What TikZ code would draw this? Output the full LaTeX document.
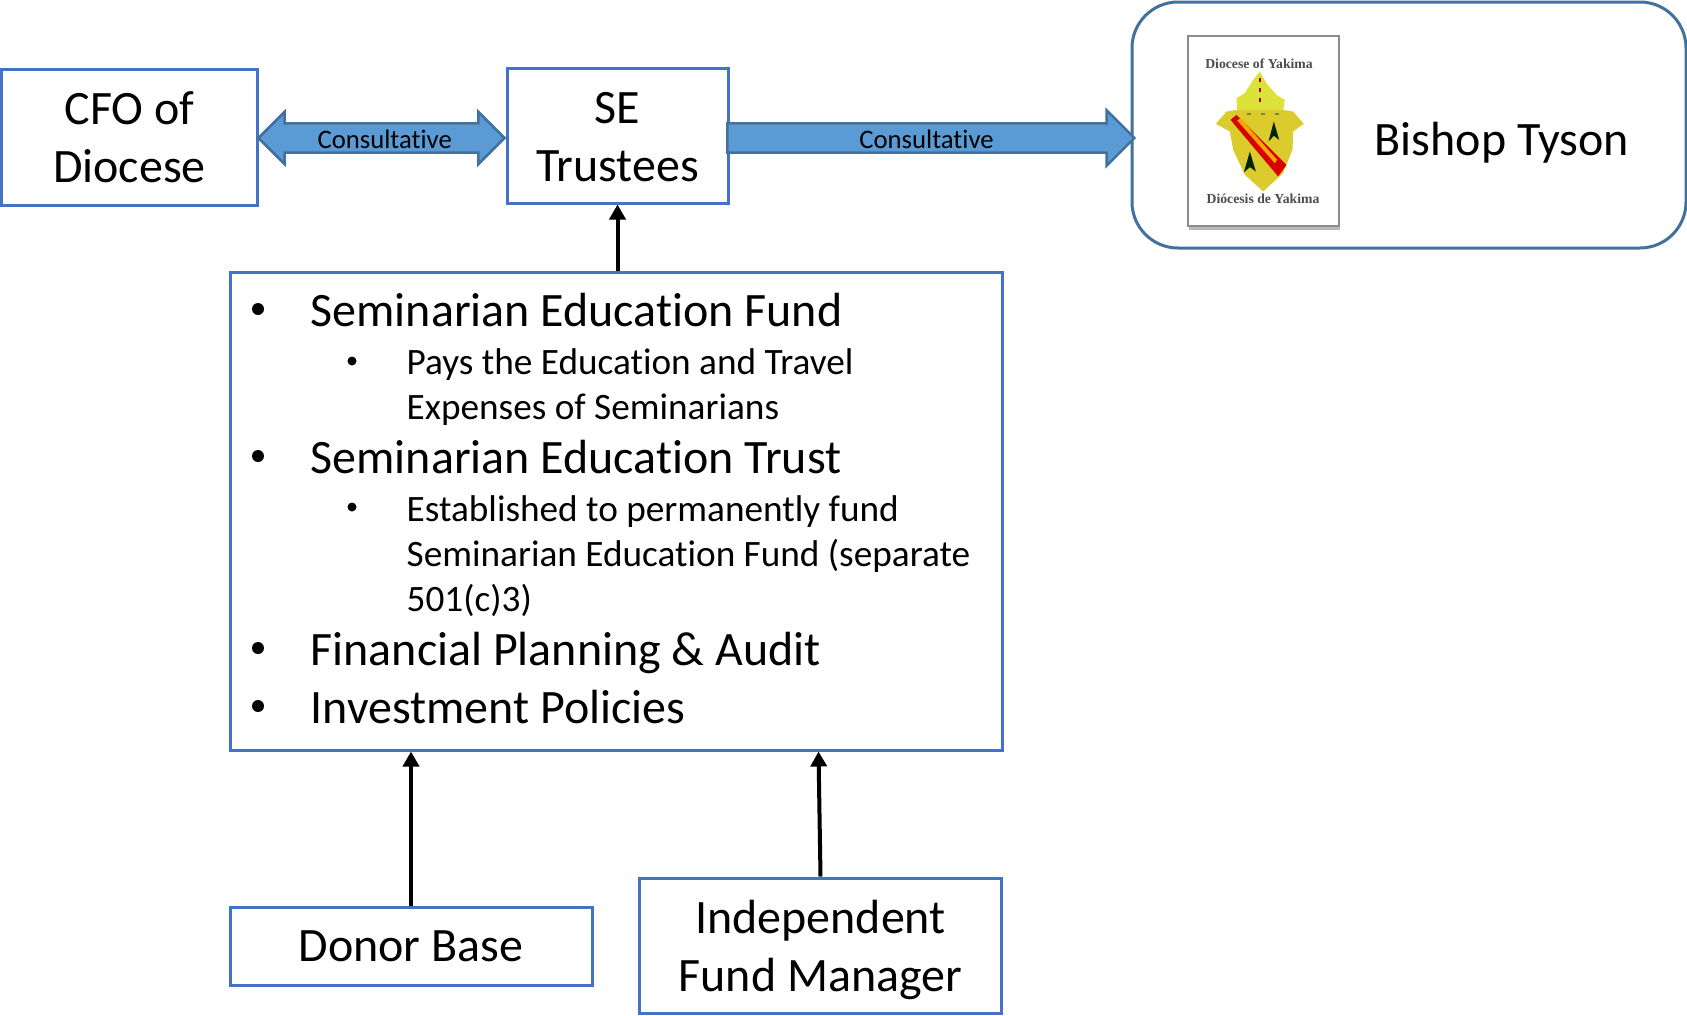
\documentclass[tikz,border=0pt]{standalone}
\usepackage{fontspec}
\setmainfont[Ligatures=NoCommon]{Carlito}
\newfontfamily\crestfont{Liberation Serif}
\usetikzlibrary{calc,positioning,arrows.meta,shapes.arrows,shadows}
\definecolor{boxblue}{HTML}{4472C4}
\definecolor{arrowblue}{HTML}{5B9BD5}
\definecolor{edgeblue}{HTML}{41719C}
\definecolor{crestyellow}{HTML}{DCCB2C}
\definecolor{mitreyellow}{HTML}{DDE23A}
\begin{document}
\begin{tikzpicture}[x=0.1mm,y=-0.1mm,
    box/.style={draw=boxblue,line width=0.3mm,fill=white,align=center,inner sep=0pt,font=\fontsize{13.65}{16.5}\selectfont},
    blockarrow/.style={draw=edgeblue,line width=0.25mm,fill=arrowblue,inner xsep=0pt,inner ysep=0pt,font=\fontsize{7.6}{8}\selectfont,text height=2.41mm,text depth=0.25mm},
    big/.style={anchor=base west,inner sep=0pt,font=\fontsize{13.65}{16.5}\selectfont},
    small/.style={anchor=base west,inner sep=0pt,font=\fontsize{10.6}{12.5}\selectfont},
    ele/.style={fill=black,circle,inner sep=0pt,minimum width=#1},
    feed/.style={-{Triangle[length=1.5mm,width=1.6mm]},line width=0.4mm},
    crest/.style={inner sep=0pt,text=black!70,font=\crestfont\bfseries\fontsize{3.9}{4}\selectfont}]
    \useasboundingbox (0,0) rectangle (1687,1015);
    \node[box,minimum width=25.6mm,minimum height=13.6mm] (cfo) at (129.5,137) {CFO of\\Diocese};
    \node[box,minimum width=22.1mm,minimum height=13.5mm] (se) at (617.5,135.5) {\rule{0pt}{9.8pt}SE\\Trustees};
    \node[box,rounded corners=4.6mm,draw=edgeblue,minimum width=55.4mm,minimum height=24.6mm] (bishop) at (1409,125) {};
    \node[big] (tyson) at (1374,155) {Bishop Tyson};
    \node[box,minimum width=77.2mm,minimum height=47.8mm] (funds) at (616.5,511) {};
    \node[box,minimum width=36.2mm,minimum height=7.8mm] (donor) at (411,946) {Donor Base};
    \node[box,minimum width=36.2mm,minimum height=13.5mm] (manager) at (820.5,945.5) {\rule{0pt}{12.2pt}Independent\\Fund Manager};

    \node[ele=1.2mm] (b1) at (258,309) {};
    \node[big] (t1) at (310,326) {Seminarian Education Fund};
    \node[ele=0.9mm] (b2) at (352,361) {};
    \node[small] (t2) at (406,374) {Pays the Education and Travel};
    \node[small] (t3) at (406,419) {Expenses of Seminarians};
    \node[ele=1.2mm] (b3) at (258,456) {};
    \node[big] (t4) at (310,473) {Seminarian Education Trust};
    \node[ele=0.9mm] (b4) at (352,507) {};
    \node[small] (t5) at (406,521) {Established to permanently fund};
    \node[small] (t6) at (406,566) {Seminarian Education Fund (separate};
    \node[small] (t7) at (406,611) {501(c)3)};
    \node[ele=1.2mm] (b5) at (258,648) {};
    \node[big] (t8) at (310,665) {Financial Planning \& Audit};
    \node[ele=1.2mm] (b6) at (258,706) {};
    \node[big] (t9) at (310,723) {Investment Policies};

    \node[blockarrow,double arrow,double arrow head extend=1.15mm,double arrow head indent=0pt,minimum height=24.6mm] (cfose) at (381.5,138) {\hspace*{0.64mm}Consultative};
    \node[blockarrow,single arrow,single arrow head extend=1.3mm,single arrow head indent=0pt,minimum height=40.7mm] (sebishop) at (923.5,138) {\hspace*{0.6mm}Consultative};

    \draw[feed] (funds.north -| se.south) -- (se.south);
    \draw[feed] (donor.north) -- (donor.north |- funds.south);
    \draw[feed] (manager.north) -- ($(manager.north |- funds.south)+(-2,0)$);

    \node[draw=black!45,line width=0.2mm,fill=white,minimum width=15.1mm,minimum height=19mm,inner sep=0pt,drop shadow={shadow xshift=0.1mm,shadow yshift=-0.4mm,fill=black!55}] (emblem) at (1263.5,131) {};
    \node[crest] (crest1) at (1259,64) {Diocese of Yakima};
    \node[crest] (crest2) at (1263,199) {Diócesis de Yakima};
    \begin{scope}[shift={(1120,0)},x=0.0333mm,y=-0.0333mm]
        \fill[mitreyellow] (420,215) -- (440,250) -- (470,285) -- (495,300) -- (490,335) -- (352,335) -- (350,295) -- (375,280) -- (400,240) -- cycle;
        \fill[crestyellow] (352,330) -- (490,330) -- (520,335) -- (552,372) -- (520,395) -- (518,450) -- (490,520) -- (430,575) -- (375,525) -- (340,450) -- (330,395) -- (288,372) -- (320,335) -- cycle;
        \fill[red!85!black] (332,360) -- (350,345) -- (500,495) -- (475,530) -- cycle;
        \fill[orange!70!yellow] (352,362) -- (362,355) -- (472,480) -- (465,490) -- cycle;
        \fill[black!85!green] (462,365) -- (478,420) -- (462,408) -- (446,425) -- cycle;
        \fill[black!85!green] (390,455) -- (408,515) -- (390,502) -- (372,518) -- cycle;
        \draw[red!60!black,line width=0.2mm,dash pattern=on 0.4mm off 0.6mm] (420,235) -- (420,325);
        \draw[edgeblue!60!yellow!80!black,line width=0.2mm,dash pattern=on 0.4mm off 1mm] (380,343) -- (500,343);
    \end{scope}
\end{tikzpicture}
\end{document}
